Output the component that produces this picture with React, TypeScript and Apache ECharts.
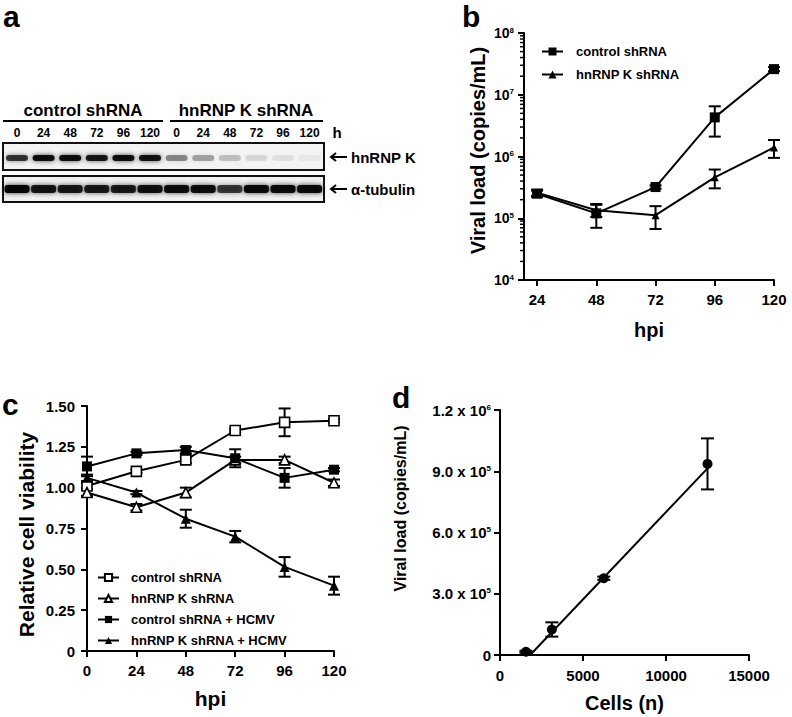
import React, { useEffect, useRef } from 'react';
import * as echarts from 'echarts';

// ---------- Panel a: western blot (relative band intensity, 0..1) ----------
const blotGroups = ['control shRNA', 'hnRNP K shRNA'];
const blotTimes = ['0', '24', '48', '72', '96', '120', '0', '24', '48', '72', '96', '120'];
const hnrnpkBand = [0.72, 0.9, 0.9, 0.85, 0.9, 0.88, 0.4, 0.3, 0.2, 0.11, 0.08, 0.05];
const tubulinBand = [0.95, 0.86, 0.84, 0.84, 0.84, 0.88, 0.9, 0.9, 0.7, 0.92, 0.92, 0.92];

// ---------- Panel b: viral load (log) ----------
const bHpi = [24, 48, 72, 96, 120];
const bControl = [2.5e5, 1.2e5, 3.2e5, 4.3e6, 2.6e7];
const bControlSD = [3e4, 5e4, 2e4, 2.2e6, 2e6];
const bKnock = [2.6e5, 1.35e5, 1.12e5, 4.6e5, 1.4e6];
const bKnockSD = [3e4, 3e4, 4.5e4, 1.55e5, 4.5e5];
const bMajorTicks = [1e4, 1e5, 1e6, 1e7, 1e8];

// ---------- Panel c: relative cell viability ----------
const cHpi = [0, 24, 48, 72, 96, 120];
const cControl = [1.01, 1.1, 1.17, 1.35, 1.4, 1.41];
const cControlSD = [0.02, 0.01, 0.02, 0.01, 0.085, 0.01];
const cKnock = [0.97, 0.88, 0.97, 1.17, 1.17, 1.03];
const cKnockSD = [0.02, 0.02, 0.03, 0.02, 0.02, 0.02];
const cControlV = [1.13, 1.21, 1.23, 1.18, 1.06, 1.11];
const cControlVSD = [0.06, 0.01, 0.02, 0.055, 0.06, 0.01];
const cKnockV = [1.06, 0.97, 0.81, 0.7, 0.515, 0.4];
const cKnockVSD = [0.02, 0.01, 0.055, 0.035, 0.06, 0.055];

// ---------- Panel d: viral load vs cells ----------
const dCells = [1562, 3125, 6250, 12500];
const dLoad = [1.6e4, 1.25e5, 3.76e5, 9.36e5];
const dLoadSD = [5e3, 3.5e4, 8e3, 1.25e5];
const dFitCells = [1817, 12500];
const dFitLoad = [0, 9.14e5];

const F = 'Liberation Sans, Arial, Helvetica, sans-serif';
const BX_MIN = 18.7;

const errRender = (cap: number) => (params: any, api: any) => {
  const x = api.value(0);
  const a = api.coord([x, api.value(1)]);
  const b = api.coord([x, api.value(2)]);
  const st = { stroke: '#000', lineWidth: 2 };
  return {
    type: 'group',
    children: [
      { type: 'line', shape: { x1: a[0], y1: a[1], x2: b[0], y2: b[1] }, style: st },
      { type: 'line', shape: { x1: a[0] - cap, y1: a[1], x2: a[0] + cap, y2: a[1] }, style: st },
      { type: 'line', shape: { x1: b[0] - cap, y1: b[1], x2: b[0] + cap, y2: b[1] }, style: st },
    ],
  };
};

const errSeries = (idx: number, xs: number[], ys: number[], sd: number[], cap = 6) => ({
  type: 'custom',
  name: 'err',
  xAxisIndex: idx,
  yAxisIndex: idx,
  z: 1,
  silent: true,
  encode: { x: 0, y: [1, 2] },
  renderItem: errRender(cap),
  data: xs.map((x, i) => [x, ys[i] - sd[i], ys[i] + sd[i]]),
});

const lineSeries = (name: string, idx: number, xs: number[], ys: number[], symbol: string, size: number, open: boolean) => ({
  type: 'line',
  name,
  xAxisIndex: idx,
  yAxisIndex: idx,
  z: 3,
  symbol,
  symbolSize: size,
  showSymbol: true,
  data: xs.map((x, i) => [x, ys[i]]),
  lineStyle: { color: '#000', width: 2 },
  itemStyle: open
    ? { color: '#fff', borderColor: '#000', borderWidth: 1.6, opacity: 1 }
    : { color: '#000', borderColor: '#000', borderWidth: 0, opacity: 1 },
});

const nameStyle = (size: number, padding: number[]) => ({
  color: '#000',
  fontFamily: F,
  fontWeight: 'bold',
  fontSize: size,
  padding,
});

const axisCommon = () => ({
  axisLine: { show: true, onZero: false, lineStyle: { color: '#000', width: 2 } },
  axisTick: { show: true, length: 6, lineStyle: { color: '#000', width: 2 } },
  splitLine: { show: false },
  nameLocation: 'middle',
  nameMoveOverlap: false,
});

function buildGraphic() {
  const laneX = (i: number) => 17 + i * 26.6;
  const els: any[] = [];
  const txt = (text: string, x: number, y: number, size: number, align = 'center') => ({
    type: 'text',
    x,
    y,
    style: { text, fontFamily: F, fontWeight: 'bold', fontSize: size, fill: '#000', align, verticalAlign: 'middle' },
  });
  // panel letters
  els.push(txt('a', 3, 16, 30, 'left'));
  els.push(txt('b', 462, 16, 30, 'left'));
  els.push(txt('c', 2, 404, 30, 'left'));
  els.push(txt('d', 392, 397, 30, 'left'));
  // headers
  els.push(txt(blotGroups[0], 83, 110, 17));
  els.push(txt(blotGroups[1], 246, 110, 17));
  els.push({ type: 'line', shape: { x1: 3, y1: 121, x2: 163, y2: 121 }, style: { stroke: '#000', lineWidth: 2 } });
  els.push({ type: 'line', shape: { x1: 170, y1: 121, x2: 323, y2: 121 }, style: { stroke: '#000', lineWidth: 2 } });
  blotTimes.forEach((t, i) => els.push(txt(t, laneX(i), 133, 12)));
  els.push(txt('h', 337, 132, 15));
  // box backgrounds
  els.push({ type: 'rect', shape: { x: 3, y: 143, width: 321, height: 27 }, style: { fill: '#f3f3f3' } });
  els.push({ type: 'rect', shape: { x: 3, y: 176, width: 321, height: 26 }, style: { fill: '#f1f1f1' } });
  // bands
  hnrnpkBand.forEach((a, i) => {
    els.push({
      type: 'rect',
      shape: { x: laneX(i) - 11, y: 155, width: 22, height: 6, r: 3 },
      style: { fill: `rgba(0,0,0,${a})`, shadowBlur: 5, shadowColor: `rgba(0,0,0,${a * 0.9})` },
    });
  });
  tubulinBand.forEach((a, i) => {
    els.push({
      type: 'rect',
      shape: { x: laneX(i) - 12.5, y: 185, width: 25, height: 8, r: 3 },
      style: { fill: `rgba(0,0,0,${a})`, shadowBlur: 5, shadowColor: `rgba(0,0,0,${a * 0.9})` },
    });
  });
  // boxes
  els.push({ type: 'rect', shape: { x: 3, y: 143, width: 321, height: 27 }, style: { fill: 'none', stroke: '#111', lineWidth: 2 } });
  els.push({ type: 'rect', shape: { x: 3, y: 176, width: 321, height: 26 }, style: { fill: 'none', stroke: '#111', lineWidth: 2 } });
  // arrows + labels
  [[157, 'hnRNP K'], [189, 'α-tubulin']].forEach(([y, label]: any) => {
    els.push({ type: 'line', shape: { x1: 331, y1: y, x2: 347, y2: y }, style: { stroke: '#000', lineWidth: 2 } });
    els.push({ type: 'polyline', shape: { points: [[336, y - 4], [331, y], [336, y + 4]] }, style: { stroke: '#000', lineWidth: 2, fill: 'none' } });
    els.push(txt(label, 351, y, 15, 'left'));
  });
  return els;
}

export default function App() {
  const ref = useRef<HTMLDivElement>(null);
  useEffect(() => {
    if (!ref.current) return;
    const chart = echarts.init(ref.current, null, { renderer: 'svg' });
    const minorVals: number[] = [];
    for (let k = 4; k < 8; k++) for (let m = 2; m <= 9; m++) minorVals.push(m * Math.pow(10, k));

    const supRich = { s: { fontSize: 8, fontWeight: 'bold', fontFamily: F, verticalAlign: 'top', lineHeight: 14 } };

    const option: any = {
      animation: false,
      backgroundColor: '#fff',
      textStyle: { fontFamily: F },
      graphic: buildGraphic(),
      grid: [
        { left: 524, top: 33, width: 250, height: 247, outerBoundsMode: 'none' },
        { left: 87, top: 406, width: 247, height: 245, outerBoundsMode: 'none' },
        { left: 500, top: 410, width: 249, height: 245, outerBoundsMode: 'none' },
      ],
      xAxis: [
        {
          ...axisCommon(),
          gridIndex: 0,
          type: 'value',
          min: BX_MIN,
          max: 120,
          axisTick: { show: true, length: 6, lineStyle: { color: '#000', width: 2 }, customValues: bHpi },
          axisLabel: { color: '#000', fontFamily: F, fontWeight: 'bold', fontSize: 15, margin: 12, customValues: bHpi },
          name: 'hpi',
          nameGap: 40,
          nameTextStyle: nameStyle(20, [0, 0, 0, 0]),
        },
        {
          ...axisCommon(),
          gridIndex: 1,
          type: 'value',
          min: 0,
          max: 120,
          interval: 24,
          axisLabel: { color: '#000', fontFamily: F, fontWeight: 'bold', fontSize: 15, margin: 12 },
          name: 'hpi',
          nameGap: 37,
          nameTextStyle: nameStyle(21, [0, 0, 0, 0]),
        },
        {
          ...axisCommon(),
          gridIndex: 2,
          type: 'value',
          min: 0,
          max: 15000,
          interval: 5000,
          axisLabel: { color: '#000', fontFamily: F, fontWeight: 'bold', fontSize: 15, margin: 13, formatter: (v: number) => String(v) },
          name: 'Cells (n)',
          nameGap: 38,
          nameTextStyle: nameStyle(20, [0, 0, 0, 0]),
        },
      ],
      yAxis: [
        {
          ...axisCommon(),
          gridIndex: 0,
          type: 'log',
          logBase: 10,
          min: bMajorTicks[0],
          max: bMajorTicks[bMajorTicks.length - 1],
          axisLabel: {
            color: '#000',
            fontFamily: F,
            fontWeight: 'bold',
            fontSize: 14,
            lineHeight: 14,
            margin: 10,
            formatter: (v: number) => '10{s|' + Math.round(Math.log10(v)) + '}',
            rich: supRich,
          },
          name: 'Viral load (copies/mL)',
          nameGap: 36,
          nameTextStyle: nameStyle(20, [0, 0, 0, 12]),
        },
        {
          ...axisCommon(),
          gridIndex: 1,
          type: 'value',
          min: 0,
          max: 1.5,
          interval: 0.25,
          axisLabel: {
            color: '#000',
            fontFamily: F,
            fontWeight: 'bold',
            fontSize: 15,
            margin: 12,
            formatter: (v: number) => (v === 0 ? '0' : v.toFixed(2)),
          },
          name: 'Relative cell viability',
          nameGap: 50,
          nameTextStyle: nameStyle(21, [0, 12, 0, 0]),
        },
        {
          ...axisCommon(),
          gridIndex: 2,
          type: 'value',
          min: 0,
          max: 1.2e6,
          interval: 3e5,
          axisLabel: {
            color: '#000',
            fontFamily: F,
            fontWeight: 'bold',
            fontSize: 15,
            lineHeight: 14,
            margin: 9,
            formatter: (v: number) => {
              if (v === 0) return '0';
              const e = v >= 1e6 ? 6 : 5;
              return (v / Math.pow(10, e)).toFixed(1) + ' x 10{s|' + e + '}';
            },
            rich: supRich,
          },
          name: 'Viral load (copies/mL)',
          nameGap: 92,
          nameTextStyle: nameStyle(16, [0, 0, 0, 48]),
        },
      ],
      legend: [
        {
          data: ['b:control shRNA', 'b:hnRNP K shRNA'],
          formatter: (n: string) => n.replace(/^b:/, ''),
          orient: 'vertical',
          left: 541,
          top: 45,
          padding: 0,
          itemWidth: 21,
          itemHeight: 10,
          itemGap: 10,
          selectedMode: false,
          textStyle: { color: '#000', fontFamily: F, fontWeight: 'bold', fontSize: 13, lineHeight: 13, padding: [0, 0, 0, 8] },
        },
        {
          data: ['control shRNA', 'hnRNP K shRNA', 'control shRNA + HCMV', 'hnRNP K shRNA + HCMV'],
          orient: 'vertical',
          left: 97,
          top: 571,
          padding: 0,
          itemWidth: 21,
          itemHeight: 9,
          itemGap: 8,
          selectedMode: false,
          textStyle: { color: '#000', fontFamily: F, fontWeight: 'bold', fontSize: 13, lineHeight: 13, padding: [0, 0, 0, 7] },
        },
      ],
      series: [
        // panel b
        errSeries(0, bHpi, bControl, bControlSD),
        errSeries(0, bHpi, bKnock, bKnockSD),
        lineSeries('b:control shRNA', 0, bHpi, bControl, 'rect', 10, false),
        lineSeries('b:hnRNP K shRNA', 0, bHpi, bKnock, 'triangle', 8, false),
        {
          type: 'custom',
          name: 'minor',
          xAxisIndex: 0,
          yAxisIndex: 0,
          silent: true,
          clip: false,
          encode: { x: 0, y: 1 },
          renderItem: (p: any, api: any) => {
            const c = api.coord([BX_MIN, api.value(1)]);
            return { type: 'line', shape: { x1: c[0] - 4, y1: c[1], x2: c[0], y2: c[1] }, style: { stroke: '#000', lineWidth: 1.5 } };
          },
          data: minorVals.map((v) => [BX_MIN, v]),
        },
        // panel c
        errSeries(1, cHpi, cControl, cControlSD),
        errSeries(1, cHpi, cKnock, cKnockSD),
        errSeries(1, cHpi, cControlV, cControlVSD),
        errSeries(1, cHpi, cKnockV, cKnockVSD),
        lineSeries('control shRNA', 1, cHpi, cControl, 'rect', 10, true),
        lineSeries('hnRNP K shRNA', 1, cHpi, cKnock, 'triangle', 10, true),
        lineSeries('control shRNA + HCMV', 1, cHpi, cControlV, 'rect', 10, false),
        lineSeries('hnRNP K shRNA + HCMV', 1, cHpi, cKnockV, 'triangle', 10, false),
        // panel d
        errSeries(2, dCells, dLoad, dLoadSD, 6.5),
        {
          type: 'line',
          name: 'fit',
          xAxisIndex: 2,
          yAxisIndex: 2,
          showSymbol: false,
          symbol: 'none',
          z: 2,
          data: dFitCells.map((x, i) => [x, dFitLoad[i]]),
          lineStyle: { color: '#000', width: 2 },
        },
        {
          type: 'scatter',
          name: 'cells',
          xAxisIndex: 2,
          yAxisIndex: 2,
          symbol: 'circle',
          symbolSize: 10,
          z: 3,
          data: dCells.map((x, i) => [x, dLoad[i]]),
          itemStyle: { color: '#000', opacity: 1 },
        },
      ],
    };
    chart.setOption(option);
    return () => chart.dispose();
  }, []);
  return (
    <div
      ref={ref}
      style={{ position: 'absolute', left: 0, top: 0, width: 792, height: 717, background: '#fff' }}
    />
  );
}
